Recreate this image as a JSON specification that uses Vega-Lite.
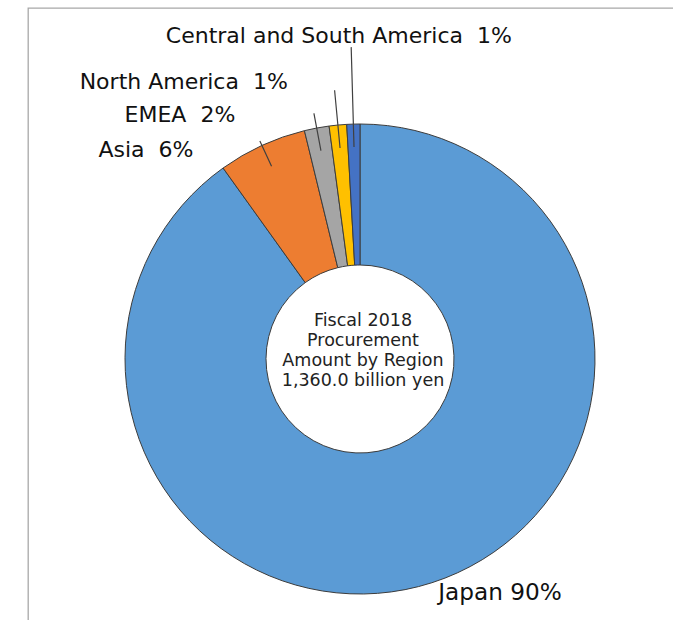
{
  "$schema": "https://vega.github.io/schema/vega-lite/v6.json",
  "width": 664,
  "height": 702,
  "autosize": {"type": "none"},
  "padding": {"left": 28, "top": 8, "right": -19, "bottom": -90},
  "background": "white",
  "view": {"stroke": "#a8a8a8", "strokeWidth": 1.3},
  "datasets": {
    "regions": [
      {"region": "Japan", "value": 90.1, "label": "Japan 90%", "order": 1},
      {"region": "Asia", "value": 6.1, "label": "Asia\u00a0\u00a06%", "order": 2},
      {"region": "EMEA", "value": 1.7, "label": "EMEA\u00a0\u00a02%", "order": 3},
      {"region": "North America", "value": 1.2, "label": "North America\u00a0\u00a01%", "order": 4},
      {"region": "Central and South America", "value": 0.9, "label": "Central and South America\u00a0\u00a01%", "order": 5}
    ],
    "centre": [
      {"caption": "Fiscal 2018 Procurement Amount by Region 1,360.0 billion yen"}
    ]
  },
  "data": {"name": "regions"},
  "layer": [
    {
      "mark": {"type": "arc", "outerRadius": 235, "innerRadius": 94, "stroke": "#3c3c3c", "strokeWidth": 1},
      "encoding": {
        "theta": {"field": "value", "type": "quantitative", "stack": true},
        "order": {"field": "order", "type": "quantitative"},
        "color": {
          "field": "region", "type": "nominal", "legend": null,
          "scale": {
            "domain": ["Japan", "Asia", "EMEA", "North America", "Central and South America"],
            "range": ["#5B9BD5", "#ED7D31", "#A5A5A5", "#FFC000", "#4472C4"]
          }
        }
      }
    },
    {
      "mark": {"type": "arc", "innerRadius": 212, "outerRadius": 312, "padAngle": 3.14, "fill": "transparent", "stroke": "#404040", "strokeWidth": 1.2},
      "encoding": {
        "theta": {"field": "value", "type": "quantitative", "stack": true},
        "order": {"field": "order", "type": "quantitative"},
        "detail": {"field": "region", "type": "nominal"},
        "strokeOpacity": {"condition": {"test": "datum.region === 'Central and South America'", "value": 1}, "value": 0}
      }
    },
    {
      "mark": {"type": "arc", "innerRadius": 212, "outerRadius": 270, "padAngle": 3.14, "fill": "transparent", "stroke": "#404040", "strokeWidth": 1.2},
      "encoding": {
        "theta": {"field": "value", "type": "quantitative", "stack": true},
        "order": {"field": "order", "type": "quantitative"},
        "detail": {"field": "region", "type": "nominal"},
        "strokeOpacity": {"condition": {"test": "datum.region === 'North America'", "value": 1}, "value": 0}
      }
    },
    {
      "mark": {"type": "arc", "innerRadius": 212, "outerRadius": 250, "padAngle": 3.14, "fill": "transparent", "stroke": "#404040", "strokeWidth": 1.2},
      "encoding": {
        "theta": {"field": "value", "type": "quantitative", "stack": true},
        "order": {"field": "order", "type": "quantitative"},
        "detail": {"field": "region", "type": "nominal"},
        "strokeOpacity": {"condition": {"test": "datum.region === 'EMEA'", "value": 1}, "value": 0}
      }
    },
    {
      "mark": {"type": "arc", "innerRadius": 212, "outerRadius": 240, "padAngle": 3.14, "fill": "transparent", "stroke": "#404040", "strokeWidth": 1.2},
      "encoding": {
        "theta": {"field": "value", "type": "quantitative", "stack": true},
        "order": {"field": "order", "type": "quantitative"},
        "detail": {"field": "region", "type": "nominal"},
        "strokeOpacity": {"condition": {"test": "datum.region === 'Asia'", "value": 1}, "value": 0}
      }
    },
    {
      "mark": {"type": "text", "radius": 323, "align": "center", "baseline": "middle", "dx": -12, "fontSize": 22, "font": "DejaVu Sans", "color": "#111111"},
      "encoding": {
        "theta": {"field": "value", "type": "quantitative", "stack": true},
        "order": {"field": "order", "type": "quantitative"},
        "detail": {"field": "region", "type": "nominal"},
        "text": {"condition": {"test": "datum.region === 'Central and South America'", "field": "label", "type": "nominal"}, "value": ""}
      }
    },
    {
      "mark": {"type": "text", "radius": 278, "align": "right", "baseline": "middle", "dx": -46, "fontSize": 22, "font": "DejaVu Sans", "color": "#111111"},
      "encoding": {
        "theta": {"field": "value", "type": "quantitative", "stack": true},
        "order": {"field": "order", "type": "quantitative"},
        "detail": {"field": "region", "type": "nominal"},
        "text": {"condition": {"test": "datum.region === 'North America'", "field": "label", "type": "nominal"}, "value": ""}
      }
    },
    {
      "mark": {"type": "text", "radius": 248, "align": "right", "baseline": "middle", "dx": -79, "fontSize": 22, "font": "DejaVu Sans", "color": "#111111"},
      "encoding": {
        "theta": {"field": "value", "type": "quantitative", "stack": true},
        "order": {"field": "order", "type": "quantitative"},
        "detail": {"field": "region", "type": "nominal"},
        "text": {"condition": {"test": "datum.region === 'EMEA'", "field": "label", "type": "nominal"}, "value": ""}
      }
    },
    {
      "mark": {"type": "text", "radius": 229, "align": "right", "baseline": "middle", "dx": -71, "dy": -1, "fontSize": 22, "font": "DejaVu Sans", "color": "#111111"},
      "encoding": {
        "theta": {"field": "value", "type": "quantitative", "stack": true},
        "order": {"field": "order", "type": "quantitative"},
        "detail": {"field": "region", "type": "nominal"},
        "text": {"condition": {"test": "datum.region === 'Asia'", "field": "label", "type": "nominal"}, "value": ""}
      }
    },
    {
      "mark": {"type": "text", "radius": 246, "align": "left", "baseline": "middle", "dx": 3, "fontSize": 23.2, "font": "DejaVu Sans", "color": "#111111"},
      "encoding": {
        "theta": {"field": "value", "type": "quantitative", "stack": true},
        "order": {"field": "order", "type": "quantitative"},
        "detail": {"field": "region", "type": "nominal"},
        "text": {"condition": {"test": "datum.region === 'Japan'", "field": "label", "type": "nominal"}, "value": ""}
      }
    },
    {
      "data": {"name": "centre"},
      "mark": {"type": "text", "align": "center", "baseline": "middle", "fontSize": 17.5, "lineHeight": 20, "dx": 3, "dy": -38, "font": "DejaVu Sans", "color": "#222222"},
      "encoding": {
        "text": {"value": ["Fiscal 2018", "Procurement", "Amount by Region", "1,360.0 billion yen"]}
      }
    }
  ]
}
